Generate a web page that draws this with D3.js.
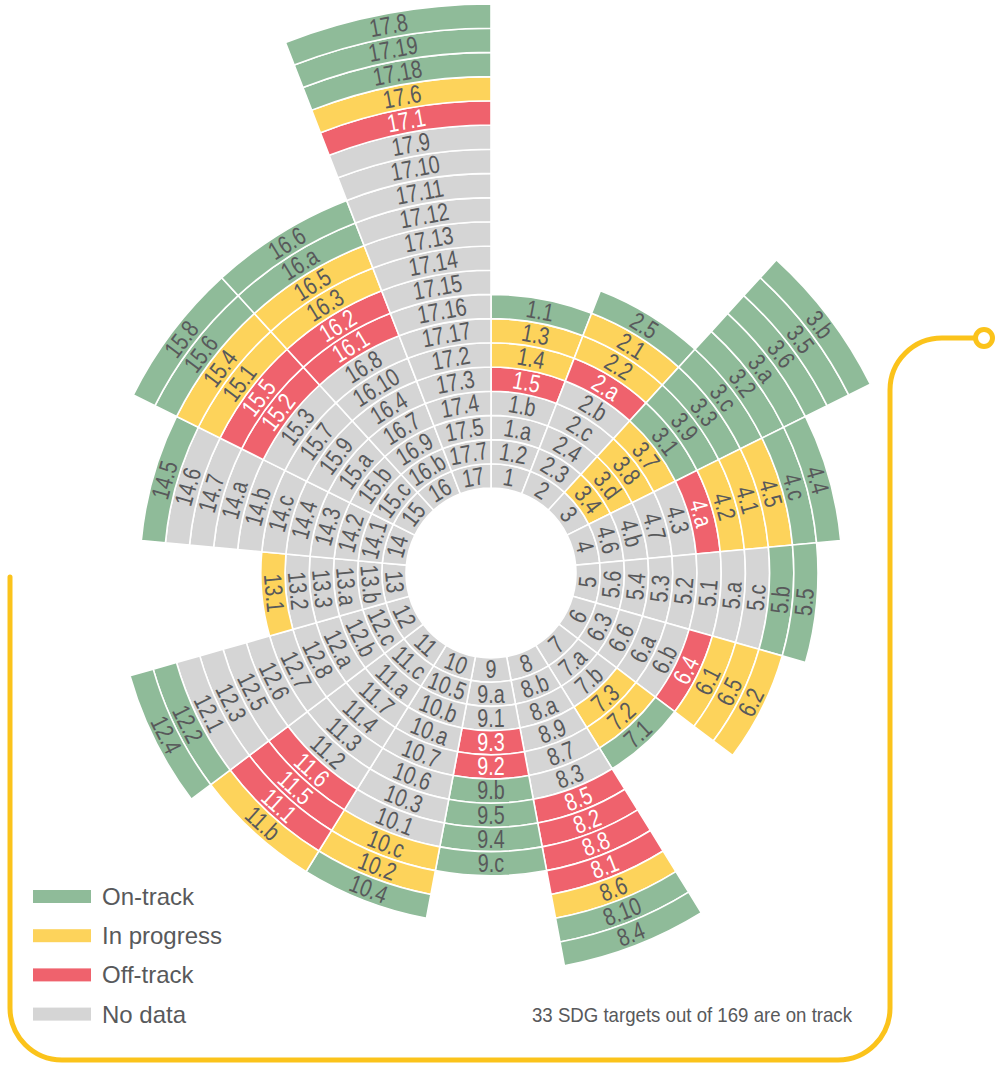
<!DOCTYPE html>
<html>
<head>
<meta charset="utf-8">
<script src="https://cdn.jsdelivr.net/npm/d3@7"></script>
<style>
  body { margin: 0; background: #fff; }
  svg { display: block; }
  .cell-label { font-family: "Liberation Sans", Arial, sans-serif; font-size: 25px; }
  .legend-label { font-family: "Liberation Sans", Arial, sans-serif; font-size: 24px; fill: #58595b; }
  .note { font-family: "Liberation Sans", Arial, sans-serif; font-size: 21px; fill: #58595b; }
</style>
</head>
<body>
<div class="container"></div>
<script>
// goals, clockwise from 12 o'clock
var goals = ['1', '2', '3', '4', '5', '6', '7', '8', '9', '10', '11', '12', '13', '14', '15', '16', '17'];

// targets of each goal, from the centre outwards
var targets = [
	['1.2', '1.a', '1.b', '1.5', '1.4', '1.3', '1.1'],
	['2.3', '2.4', '2.c', '2.b', '2.a', '2.2', '2.1', '2.5'],
	['3.4', '3.d', '3.8', '3.7', '3.1', '3.9', '3.3', '3.c', '3.2', '3.a', '3.6', '3.5', '3.b'],
	['4.6', '4.b', '4.7', '4.3', '4.a', '4.2', '4.1', '4.5', '4.c', '4.4'],
	['5.6', '5.4', '5.3', '5.2', '5.1', '5.a', '5.c', '5.b', '5.5'],
	['6.3', '6.6', '6.a', '6.b', '6.4', '6.1', '6.5', '6.2'],
	['7.a', '7.b', '7.3', '7.2', '7.1'],
	['8.b', '8.a', '8.9', '8.7', '8.3', '8.5', '8.2', '8.8', '8.1', '8.6', '8.10', '8.4'],
	['9.a', '9.1', '9.3', '9.2', '9.b', '9.5', '9.4', '9.c'],
	['10.5', '10.b', '10.a', '10.7', '10.6', '10.3', '10.1', '10.c', '10.2', '10.4'],
	['11.c', '11.a', '11.7', '11.4', '11.3', '11.2', '11.6', '11.5', '11.1', '11.b'],
	['12.c', '12.b', '12.a', '12.8', '12.7', '12.6', '12.5', '12.3', '12.1', '12.2', '12.4'],
	['13.b', '13.a', '13.3', '13.2', '13.1'],
	['14.1', '14.2', '14.3', '14.4', '14.c', '14.b', '14.a', '14.7', '14.6', '14.5'],
	['15.c', '15.b', '15.a', '15.9', '15.7', '15.3', '15.2', '15.5', '15.1', '15.4', '15.6', '15.8'],
	['16.b', '16.9', '16.7', '16.4', '16.10', '16.8', '16.1', '16.2', '16.3', '16.5', '16.a', '16.6'],
	['17.7', '17.5', '17.4', '17.3', '17.2', '17.17', '17.16', '17.15', '17.14', '17.13', '17.12', '17.11', '17.10', '17.9', '17.1', '17.6', '17.18', '17.19', '17.8']
];

// status of each target: N = no data, R = off-track, Y = in progress, G = on-track
var targetStatus = [
	'NNNRYYG',
	'NNNNRYYG',
	'YYYYGGGGGGGGG',
	'NNNNRYYYGG',
	'NNNNNNNGG',
	'NNNNRYYY',
	'NNYYG',
	'NNNNNRRRRYGG',
	'NNRRGGGG',
	'NNNNNNNYYG',
	'NNNNNNRRRY',
	'NNNNNNNNNGG',
	'NNNNY',
	'NNNNNNNNNG',
	'NNNNNNRRYYGG',
	'NNNNNNRRYYGG',
	'NNNNNNNNNNNNNNRYGGG'
];

var legendKeys = ['G', 'Y', 'R', 'N'];
var legendNames = ['On-track', 'In progress', 'Off-track', 'No data'];
var colorValues = ['#8fbb99', '#fdd35b', '#ef626d', '#d5d5d5'];
var note = '33 SDG targets out of 169 are on track';

var width = 997, height = 1065;
var center = { x: 491, y: 573 };
var innerRadius = 85, ringWidth = 24.2;

var svg = d3.select('.container')
	.append('svg')
	.attr('width', width)
	.attr('height', height);

var colors = d3.scaleOrdinal()
	.domain(legendKeys)
	.range(colorValues);

// one band per goal round the circle
var angle = d3.scaleBand()
	.domain(goals)
	.range([0, 2 * Math.PI])
	.padding(0);

// ring 0 is the goal itself, then its targets
var radius = d3.scaleLinear()
	.domain([0, 20])
	.range([innerRadius, innerRadius + 20 * ringWidth]);

var cells = [];
goals.forEach(function (goal, g) {
	cells.push({ goal: goal, ring: 0, label: goal, key: 'N' });
	targets[g].forEach(function (t, i) {
		cells.push({ goal: goal, ring: i + 1, label: t, key: targetStatus[g].charAt(i) });
	});
});

var arc = d3.arc()
	.startAngle(d => angle(d.goal))
	.endAngle(d => angle(d.goal) + angle.bandwidth())
	.innerRadius(d => radius(d.ring))
	.outerRadius(d => radius(d.ring + 1));

var chart = svg.append('g')
	.attr('transform', 'translate(' + center.x + ',' + center.y + ')');

chart.selectAll('path.cell')
	.data(cells)
	.enter().append('path')
	.attr('class', 'cell')
	.attr('d', arc)
	.attr('fill', d => colors(d.key))
	.attr('stroke', '#fff')
	.attr('stroke-width', 1.6);

// labels follow the ring, flipped on the lower half so they stay readable
chart.selectAll('text.cell-label')
	.data(cells)
	.enter().append('text')
	.attr('class', 'cell-label')
	.attr('text-anchor', 'middle')
	.attr('dominant-baseline', 'central')
	.attr('fill', d => d.key === 'R' ? '#fff' : '#58595b')
	.attr('transform', function (d) {
		var a = angle(d.goal) + angle.bandwidth() / 2;
		var r = radius(d.ring + 0.5);
		var deg = a * 180 / Math.PI;
		var rot = (deg > 90 && deg < 270) ? deg - 180 : deg;
		return 'translate(' + (r * Math.sin(a)) + ',' + (-r * Math.cos(a)) + ') rotate(' + rot + ') scale(0.79,1)';
	})
	.text(d => d.label);

// yellow frame
var frame = d3.path();
frame.moveTo(975, 338);
frame.lineTo(942, 338);
frame.arcTo(890, 338, 890, 390, 52);
frame.lineTo(890, 1008);
frame.arcTo(890, 1060, 838, 1060, 52);
frame.lineTo(62, 1060);
frame.arcTo(10, 1060, 10, 1008, 52);
frame.lineTo(10, 577);

svg.append('path')
	.attr('d', frame.toString())
	.attr('fill', 'none')
	.attr('stroke', '#fbc31b')
	.attr('stroke-width', 5)
	.attr('stroke-linecap', 'round');

svg.append('circle')
	.attr('cx', 984)
	.attr('cy', 338)
	.attr('r', 8.5)
	.attr('fill', '#fff')
	.attr('stroke', '#fbc31b')
	.attr('stroke-width', 5);

// legend
var legend = svg.append('g')
	.attr('transform', 'translate(33,890)');

var rows = legend.selectAll('g')
	.data(legendKeys)
	.enter().append('g')
	.attr('transform', (d, i) => 'translate(0,' + (i * 39.2) + ')');

rows.append('rect')
	.attr('width', 58)
	.attr('height', 13)
	.attr('fill', d => colors(d));

rows.append('text')
	.attr('class', 'legend-label')
	.attr('x', 69)
	.attr('y', 15)
	.text((d, i) => legendNames[i]);

svg.append('text')
	.attr('class', 'note')
	.attr('x', 852)
	.attr('y', 1022)
	.attr('text-anchor', 'end')
	.attr('textLength', 320)
	.attr('lengthAdjust', 'spacingAndGlyphs')
	.text(note);
</script>
</body>
</html>
